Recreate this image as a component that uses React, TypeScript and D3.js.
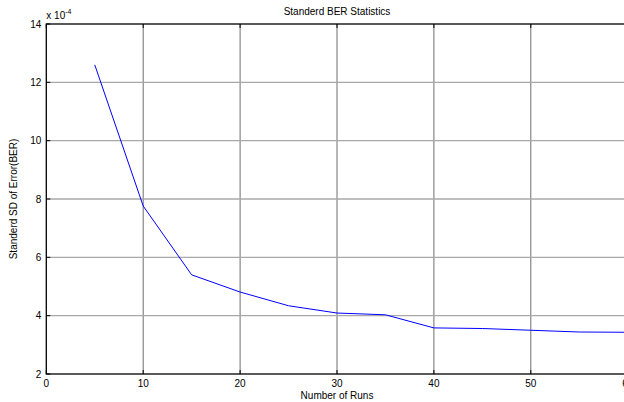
import { useEffect, useRef } from 'react'
import * as d3 from 'd3'

// Number of runs and the standard deviation of BER (x 10^-4)
const runs = [5, 10, 15, 20, 25, 30, 35, 40, 45, 50, 55, 60]
const sdBer = [12.6, 7.76, 5.4, 4.81, 4.34, 4.09, 4.03, 3.58, 3.56, 3.5, 3.44, 3.43]
const xTicks = [0, 10, 20, 30, 40, 50, 60]
const yTicks = [2, 4, 6, 8, 10, 12, 14]

const W = 624
const H = 402

export default function App() {
  const svgRef = useRef<SVGSVGElement>(null)

  useEffect(() => {
    if (!svgRef.current) return
    const svg = d3.select(svgRef.current)
    svg.selectAll('*').remove()

    const left = 46.3
    const right = 627.7
    const top = 24
    const bottom = 374

    const x = d3.scaleLinear().domain([0, 60]).range([left, right])
    const y = d3.scaleLinear().domain([2, 14]).range([bottom, top])

    svg.append('rect')
      .attr('x', left).attr('y', top)
      .attr('width', right - left).attr('height', bottom - top)
      .attr('fill', '#fff')

    // grid
    svg.append('g').selectAll('line')
      .data(xTicks.slice(1, -1))
      .enter().append('line')
      .attr('x1', d => x(d)).attr('x2', d => x(d))
      .attr('y1', top).attr('y2', bottom)
      .attr('stroke', '#6e6e6e').attr('stroke-width', 1)

    svg.append('g').selectAll('line')
      .data(yTicks.slice(1, -1))
      .enter().append('line')
      .attr('x1', left).attr('x2', right)
      .attr('y1', d => y(d)).attr('y2', d => y(d))
      .attr('stroke', '#a8a8a8').attr('stroke-width', 1.4)

    // line
    const line = d3.line<number>()
      .x((_, i) => x(runs[i]))
      .y(d => y(d))
    svg.append('path')
      .datum(sdBer)
      .attr('d', line)
      .attr('fill', 'none')
      .attr('stroke', '#0000ff')
      .attr('stroke-width', 1)

    // axes box
    svg.append('rect')
      .attr('x', left).attr('y', top)
      .attr('width', right - left).attr('height', bottom - top)
      .attr('fill', 'none')
      .attr('stroke', '#000').attr('stroke-width', 1.3)

    // tick marks (inward)
    const tk = svg.append('g').attr('stroke', '#000').attr('stroke-width', 1)
    xTicks.forEach(t => {
      tk.append('line').attr('x1', x(t)).attr('x2', x(t)).attr('y1', bottom).attr('y2', bottom - 4)
      tk.append('line').attr('x1', x(t)).attr('x2', x(t)).attr('y1', top).attr('y2', top + 4)
    })
    yTicks.forEach(t => {
      tk.append('line').attr('x1', left).attr('x2', left + 4).attr('y1', y(t)).attr('y2', y(t))
    })

    const font = 'Liberation Sans, Arial, sans-serif'

    svg.append('g').selectAll('text')
      .data(xTicks)
      .enter().append('text')
      .attr('x', d => x(d)).attr('y', bottom + 13)
      .attr('text-anchor', 'middle')
      .style('font-family', font).style('font-size', '10px')
      .text(d => String(d))

    svg.append('g').selectAll('text')
      .data(yTicks)
      .enter().append('text')
      .attr('x', left - 5).attr('y', d => y(d) + 3.5)
      .attr('text-anchor', 'end')
      .style('font-family', font).style('font-size', '10px')
      .text(d => String(d))

    // exponent label
    const ex = svg.append('text')
      .attr('x', left).attr('y', 19)
      .style('font-family', font).style('font-size', '10px')
    ex.append('tspan').text('x 10')
    ex.append('tspan').attr('dy', -5).style('font-size', '7px').text('-4')

    svg.append('text')
      .attr('x', (left + right) / 2).attr('y', 15)
      .attr('text-anchor', 'middle')
      .style('font-family', font).style('font-size', '10px')
      .text('Standerd BER Statistics')

    svg.append('text')
      .attr('x', (left + right) / 2).attr('y', 399)
      .attr('text-anchor', 'middle')
      .style('font-family', font).style('font-size', '10px')
      .text('Number of Runs')

    svg.append('text')
      .attr('transform', `translate(17,${(top + bottom) / 2}) rotate(-90)`)
      .attr('text-anchor', 'middle')
      .style('font-family', font).style('font-size', '10px')
      .text('Standerd SD of Error(BER)')
  }, [])

  return (
    <svg
      ref={svgRef}
      width={W}
      height={H}
      style={{ position: 'absolute', left: 0, top: 0, background: '#fff' }}
    />
  )
}
